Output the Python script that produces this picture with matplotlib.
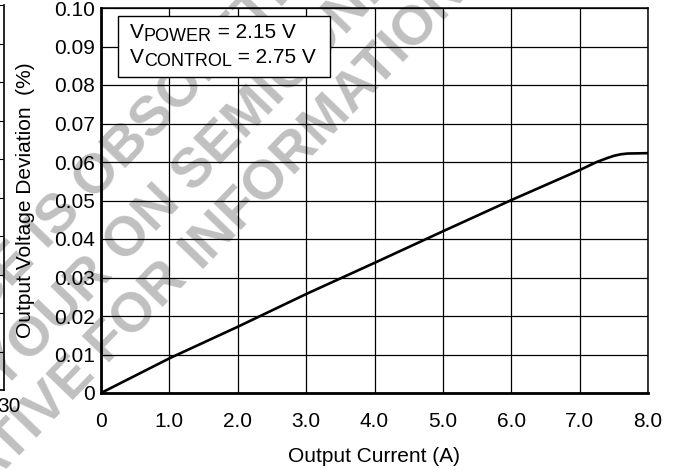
import matplotlib
matplotlib.use('Agg')
import matplotlib.pyplot as plt
from matplotlib.patches import Rectangle

plt.rcParams['font.family'] = ['Liberation Sans', 'DejaVu Sans']

# ---- data ----
current = [0, 1.0, 2.0, 3.0, 4.0, 5.0, 6.0, 7.0, 7.25, 7.4, 7.5, 7.6, 7.7, 8.0]
deviation = [0, 0.0090, 0.0172, 0.0257, 0.0338, 0.0420, 0.0501, 0.0579,
             0.0600, 0.0610, 0.0616, 0.0620, 0.0622, 0.0623]

x_ticks = [0, 1, 2, 3, 4, 5, 6, 7, 8]
x_labels = ['0', '1.0', '2.0', '3.0', '4.0', '5.0', '6.0', '7.0', '8.0']
y_ticks = [0, 0.01, 0.02, 0.03, 0.04, 0.05, 0.06, 0.07, 0.08, 0.09, 0.10]
y_labels = ['0', '0.01', '0.02', '0.03', '0.04', '0.05', '0.06', '0.07', '0.08', '0.09', '0.10']

W, H = 679, 470
fig = plt.figure(figsize=(W / 100, H / 100), dpi=100)


def px(x, y):
    # pixel (from top-left) -> figure fraction
    return x / W, 1 - y / H


# ---- watermark (behind everything) ----
wm_color = '#c0c0c0'
wm_angle = 46
wm_size = 40
# (anchor pixel, text before anchor, text after anchor)
wm_lines = [
    ((37, 241), 'THIS DEVICE ', 'IS OBSOLETE'),
    ((115, 255), 'CONTACT YOUR ', 'ON SEMICONDUCTOR'),
    ((190, 260), 'REPRESENTATIVE FOR ', 'INFORMATION'),
]
for (ax_px, ay_px), before, after in wm_lines:
    fx, fy = px(ax_px, ay_px)
    fig.text(fx, fy, before, ha='right', va='center', rotation=wm_angle,
             rotation_mode='anchor', fontsize=wm_size, fontweight='bold',
             color=wm_color, zorder=-5)
    fig.text(fx, fy, after, ha='left', va='center', rotation=wm_angle,
             rotation_mode='anchor', fontsize=wm_size, fontweight='bold',
             color=wm_color, zorder=-5)

# ---- cut-off neighbour chart on the far left ----
nb = fig.add_axes([-0.3, 1 - 390 / H, 0.3 + 3.5 / W, 385 / H])
nb.set_facecolor('none')
nb.set_xlim(0, 1)
nb.set_ylim(0, 10)
nb.set_yticks(range(11))
nb.set_xticks([])
nb.tick_params(length=0, labelleft=False)
nb.grid(axis='y', color='black', linewidth=0.8)
for s in ['left', 'top']:
    nb.spines[s].set_visible(False)
nb.spines['right'].set_linewidth(1.2)
nb.spines['bottom'].set_linewidth(1.2)
fig.text(21 / W, 1 - 407 / H, '30', ha='right', va='center', fontsize=15)

# ---- main chart ----
ax = fig.add_axes([101 / W, 1 - 393 / H, 547 / W, 385 / H])
ax.set_facecolor('none')

ax.plot(current, deviation, color='black', linewidth=1.9, zorder=4,
        solid_capstyle='butt')

ax.set_xlim(0, 8)
ax.set_ylim(0, 0.10)
ax.set_xticks(x_ticks)
ax.set_xticklabels(x_labels)
ax.set_yticks(y_ticks)
ax.set_yticklabels(y_labels)
ax.tick_params(axis='both', length=0, labelsize=15)
ax.tick_params(axis='x', pad=14)
ax.tick_params(axis='y', pad=4.5)
ax.grid(True, color='black', linewidth=0.9)
ax.set_axisbelow(True)

ax.spines['left'].set_linewidth(2.0)
ax.spines['bottom'].set_linewidth(2.0)
ax.spines['top'].set_linewidth(1.1)
ax.spines['right'].set_linewidth(1.1)

ax.set_xlabel('Output Current (A)', fontsize=15, labelpad=11)
ax.set_ylabel('Output Voltage Deviation  (%)', fontsize=15)
ax.yaxis.set_label_coords(-0.121, 0.5)

# ---- condition box ----
box = Rectangle((0.031, 0.821), 0.3876, 0.158, transform=ax.transAxes,
                facecolor='white', edgecolor='black', linewidth=1.0, zorder=5)
ax.add_patch(box)

rows = [('POWER', '2.15 V', 0.922), ('CONTROL', '2.75 V', 0.857)]
for sub, val, yb in rows:
    t1 = ax.text(0.053, yb, 'V', transform=ax.transAxes, fontsize=15,
                 va='baseline', zorder=6)
    t2 = ax.annotate(sub, xy=(1, 0), xycoords=t1, xytext=(0, -2.2),
                     textcoords='offset points', fontsize=13, va='bottom',
                     zorder=6)
    ax.annotate(' = ' + val, xy=(1, 0), xycoords=t2, xytext=(0, 2.2),
                textcoords='offset points', fontsize=15, va='bottom',
                zorder=6)

fig.savefig('out.png', dpi=100)
